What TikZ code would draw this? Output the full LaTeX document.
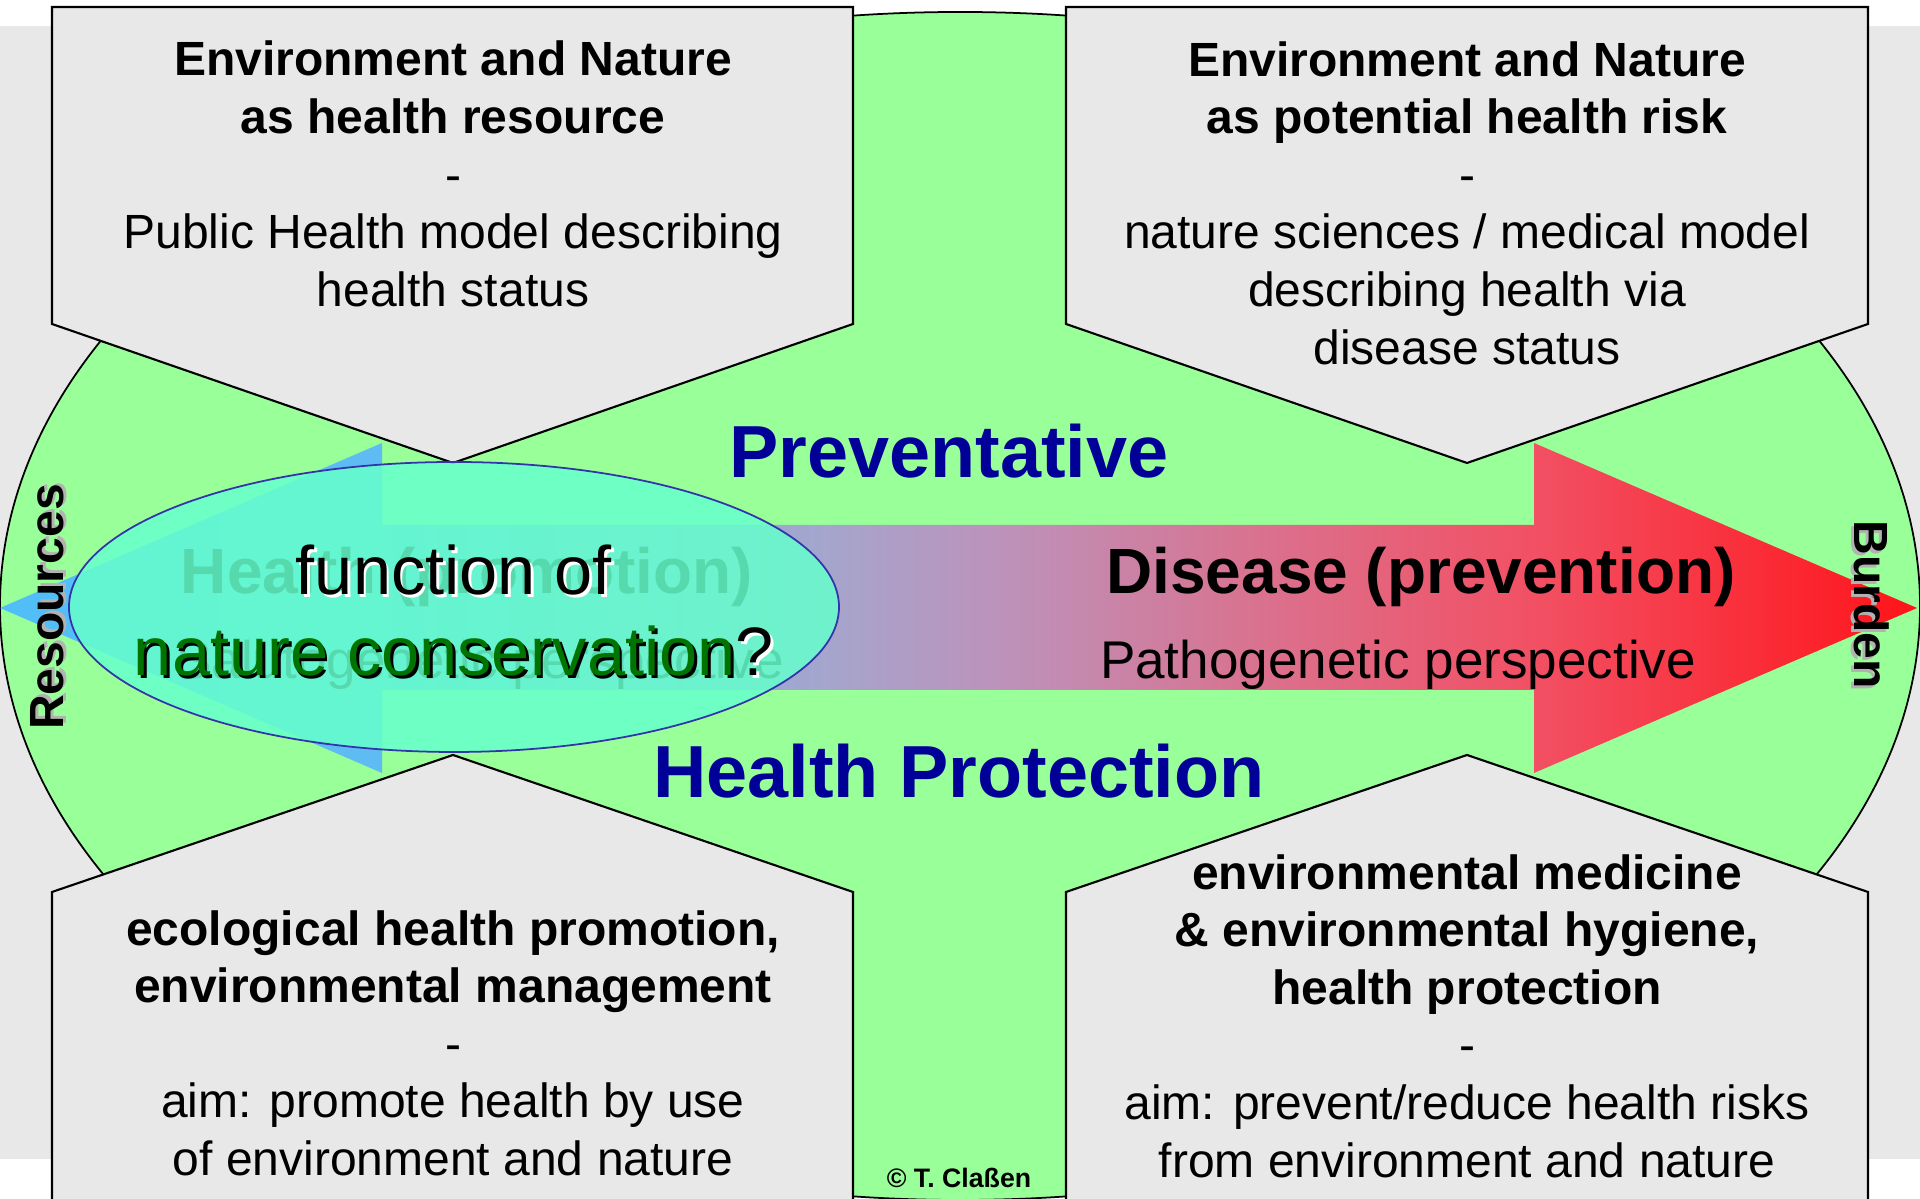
\documentclass[tikz,border=0pt]{standalone}
\usepackage{fontspec}
\setmainfont{Liberation Sans}
\definecolor{boxgray}{RGB}{232,232,232}
\definecolor{fieldgreen}{RGB}{153,255,153}
\definecolor{labelblue}{RGB}{0,0,153}
\definecolor{lensfill}{RGB}{102,255,204}
\definecolor{lensline}{RGB}{51,51,170}
\definecolor{naturegreen}{RGB}{0,115,0}
\definecolor{axisblue}{RGB}{80,190,248}
\definecolor{axisblueb}{RGB}{95,188,242}
\definecolor{axislilac}{RGB}{165,165,205}
\definecolor{axismauve}{RGB}{190,145,185}
\definecolor{axisrose}{RGB}{222,108,135}
\definecolor{axispink}{RGB}{242,80,100}
\definecolor{axisred}{RGB}{255,20,25}
\pgfdeclarehorizontalshading{healthaxis}{100bp}{color(0bp)=(axisblue); color(25bp)=(axisblue);
  color(35bp)=(axisblueb); color(46.5bp)=(axislilac); color(51.4bp)=(axismauve);
  color(59bp)=(axisrose); color(65bp)=(axispink); color(75bp)=(axisred); color(100bp)=(axisred)}
\newcommand{\shadowed}[2]{\rlap{\kern0.8pt\raisebox{-0.8pt}{\textcolor{#1}{#2}}}#2}

\begin{document}
\begin{tikzpicture}
[infobox/.style={draw=black, fill=boxgray, line width=0.6pt},
boxtext/.style={align=center, font=\fontsize{13.66}{16.38}\selectfont},
sidelabel/.style={font=\fontsize{13.66}{16}\selectfont\bfseries},
axislabel/.style={font=\fontsize{21}{25}\selectfont\bfseries, text=labelblue},
poletitle/.style={font=\fontsize{18.2}{21}\selectfont\bfseries},
polesub/.style={font=\fontsize{15.1}{18}\selectfont},
lens/.style={draw=lensline, line width=0.5pt, fill=lensfill, fill opacity=0.85},
lenstext/.style={align=center, font=\fontsize{19.5}{23.05}\selectfont}]
\useasboundingbox (0, 0) rectangle (19.2, 11.99);
\fill[boxgray] (0, 0.40) rectangle (19.2, 11.73);
\draw[fill=fieldgreen, line width=0.5pt] (9.6, 5.93) ellipse [x radius=9.6, y radius=5.94];

% four fields
\draw[infobox] (0.52, 11.92) -- (8.53, 11.92) -- (8.53, 8.75) -- (4.53, 7.36) -- (0.52, 8.75) -- cycle;
\draw[infobox] (10.66, 11.92) -- (18.68, 11.92) -- (18.68, 8.75) -- (14.67, 7.36) -- (10.66, 8.75) -- cycle;
\draw[infobox] (0.52, -0.2) -- (0.52, 3.07) -- (4.53, 4.44) -- (8.53, 3.07) -- (8.53, -0.2) -- cycle;
\draw[infobox] (10.66, -0.2) -- (10.66, 3.07) -- (14.67, 4.44) -- (18.68, 3.07) -- (18.68, -0.2) -- cycle;

\node[boxtext] (resourcetext) at (4.53, 10.25) {\textbf{Environment and Nature}\\\textbf{as health resource}\\-\\Public Health model describing\\health status};
\node[boxtext] (risktext) at (14.67, 9.96) {\textbf{Environment and Nature}\\\textbf{as potential health risk}\\-\\nature sciences / medical model\\describing health via\\disease status};
\node[boxtext] (promotiontext) at (4.53, 1.56) {\textbf{ecological health promotion,}\\\textbf{environmental management}\\-\\aim: promote health by use\\of environment and nature};
\node[boxtext] (protectiontext) at (14.67, 1.83) {\textbf{environmental medicine}\\\textbf{\& environmental hygiene,}\\\textbf{health protection}\\-\\aim: prevent/reduce health risks\\from environment and nature};

% health axis
\shade[shading=healthaxis] (0, 5.91) -- (3.82, 7.56) -- (3.82, 6.74) -- (15.34, 6.74) -- (15.34, 7.56) -- (19.17, 5.91) -- (15.34, 4.26) -- (15.34, 5.09) -- (3.82, 5.09) -- (3.82, 4.26) -- cycle;

\node[axislabel] (preventative) at (9.49, 7.48) {Preventative};
\node[axislabel] (protection) at (9.59, 4.28) {Health Protection};
\node[poletitle] (healthpole) at (4.67, 6.22) {Health (promotion)};
\node[polesub] (salutogenetic) at (4.80, 5.34) {Salutogenetic perspective};
\node[poletitle] (diseasepole) at (14.21, 6.22) {Disease (prevention)};
\node[polesub] (pathogenetic) at (13.98, 5.34) {Pathogenetic perspective};

\draw[lens] (4.54, 5.92) ellipse [x radius=3.85, y radius=1.45];
\node[lenstext] (lensquestion) at (4.54, 5.87) {\shadowed{white}{function of}\\{\color{naturegreen}\shadowed{black}{nature conservation}}\shadowed{white}{?}};

\node[sidelabel, rotate=90] (resources) at (0.49, 5.92) {\shadowed{gray!60}{Resources}};
\node[sidelabel, rotate=-90] (burden) at (18.70, 5.94) {\shadowed{gray!60}{Burden}};
\node[font=\fontsize{7.6}{9}\selectfont\bfseries] (copyright) at (9.59, 0.21) {© T. Claßen};
\end{tikzpicture}
\end{document}
